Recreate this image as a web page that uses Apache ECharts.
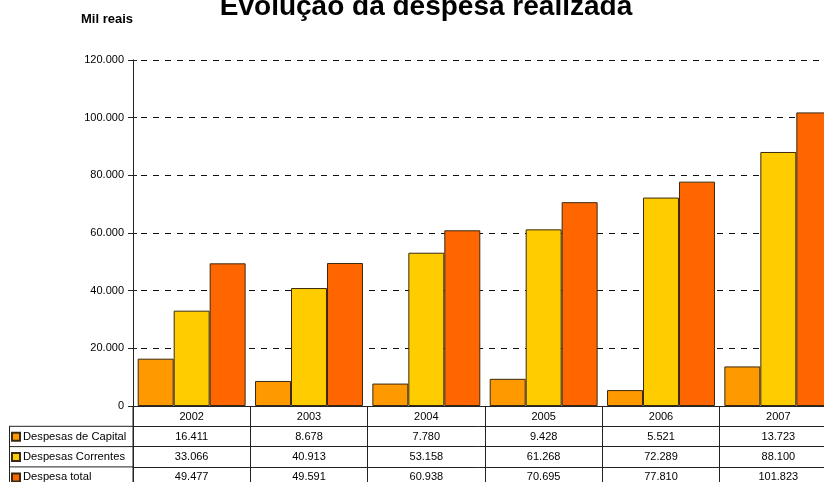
<!DOCTYPE html>
<html>
<head>
<meta charset="utf-8">
<script src="https://cdn.jsdelivr.net/npm/echarts@6/dist/echarts.min.js"></script>
<style>
  html, body { margin: 0; padding: 0; background: #fff; }
  #chart { width: 824px; height: 482px; }
</style>
</head>
<body>
<div id="chart"></div>
<script>
// Years and values (thousand reais)
const years = ['2002', '2003', '2004', '2005', '2006', '2007'];
const capital = [16411, 8678, 7780, 9428, 5521, 13723];
const correntes = [33066, 40913, 53158, 61268, 72289, 88100];
const total = [49477, 49591, 60938, 70695, 77810, 101823];
const seriesNames = ['Despesas de Capital', 'Despesas Correntes', 'Despesa total'];
const seriesColors = ['#FF9900', '#FFCC00', '#FF6600'];

const FONT = 'Liberation Sans, Arial, sans-serif';
const fmt = v => String(v).replace(/\B(?=(\d{3})+(?!\d))/g, '.');

const GRID_LEFT = 133, GRID_TOP = 60, GRID_H = 346, GRID_W = 704;
const ROW = 20.3;
const TABLE_TOP = GRID_TOP + GRID_H;
const lineColor = '#222';

function tableAxis(values, offset) {
  return {
    type: 'category', data: years, position: 'bottom', offset: offset,
    axisLine: { show: true, onZero: false, lineStyle: { color: lineColor, width: 1 } },
    axisTick: { show: true, length: ROW + 1, interval: 0, lineStyle: { color: lineColor } },
    axisLabel: {
      interval: 0, margin: 5, fontSize: 11, color: '#000', fontFamily: FONT,
      formatter: (v, i) => values[i]
    },
    splitLine: { show: false }
  };
}

// one legend per table row, so each sits in its own row of the data table
const legends = seriesNames.map((name, i) => ({
  orient: 'horizontal', left: 11, top: TABLE_TOP + ROW * (i + 1) + 5,
  padding: 0, itemWidth: 8, itemHeight: 8, itemGap: 0,
  icon: 'rect', data: [name], selectedMode: false,
  textStyle: { fontSize: 11.2, color: '#000', fontFamily: FONT, padding: [0, 0, 0, -2] }
}));

const yScale = { type: 'value', min: 0, max: 120000, interval: 20000 };

const chart = echarts.init(document.getElementById('chart'));
chart.setOption({
  animation: false,
  title: {
    text: 'Evolução da despesa realizada',
    left: 421, top: -12, textAlign: 'center',
    textStyle: { fontSize: 28, fontWeight: 'bold', color: '#000', fontFamily: FONT }
  },
  legend: legends,
  grid: { left: GRID_LEFT, top: GRID_TOP, width: GRID_W, height: GRID_H, outerBoundsMode: 'none', containLabel: false },
  xAxis: [
    tableAxis(years, 0),
    tableAxis(capital.map(fmt), ROW * 1),
    tableAxis(correntes.map(fmt), ROW * 2),
    tableAxis(total.map(fmt), ROW * 3)
  ],
  yAxis: [
    Object.assign({}, yScale, {
      name: 'Mil reais', nameLocation: 'end', nameGap: 34,
      nameTextStyle: { fontSize: 13, fontWeight: 'bold', color: '#000', fontFamily: FONT, align: 'right' },
      axisLine: { show: true, onZero: false, lineStyle: { color: lineColor } },
      axisTick: { show: true, length: 5, lineStyle: { color: lineColor } },
      axisLabel: { fontSize: 11, color: '#000', fontFamily: FONT, margin: 9, formatter: v => fmt(v) },
      splitLine: { show: true, lineStyle: { color: '#111', type: [6, 6], width: 1, dashOffset: -8 } }
    }),
    // inner half of the cross ticks on the value axis
    Object.assign({}, yScale, {
      position: 'left',
      axisLine: { show: false, onZero: false },
      axisTick: { show: true, inside: true, length: 4, lineStyle: { color: lineColor } },
      axisLabel: { show: false },
      splitLine: { show: false }
    })
  ],
  series: [capital, correntes, total].map((d, i) => ({
    name: seriesNames[i], type: 'bar', data: d,
    xAxisIndex: 0, yAxisIndex: 0,
    barGap: '0%', barCategoryGap: '8%',
    itemStyle: { color: seriesColors[i], borderColor: '#3a2a10', borderWidth: 1 }
  })),
  graphic: [
    // left column of the data table
    { type: 'line', shape: { x1: 9, y1: TABLE_TOP + ROW, x2: GRID_LEFT, y2: TABLE_TOP + ROW }, style: { stroke: lineColor, lineWidth: 1 } },
    { type: 'line', shape: { x1: 9, y1: TABLE_TOP + ROW * 2, x2: GRID_LEFT, y2: TABLE_TOP + ROW * 2 }, style: { stroke: lineColor, lineWidth: 1 } },
    { type: 'line', shape: { x1: 9, y1: TABLE_TOP + ROW * 3, x2: GRID_LEFT, y2: TABLE_TOP + ROW * 3 }, style: { stroke: lineColor, lineWidth: 1 } },
    { type: 'line', shape: { x1: 9.5, y1: TABLE_TOP + ROW, x2: 9.5, y2: 482 }, style: { stroke: lineColor, lineWidth: 1 } },
    { type: 'line', shape: { x1: GRID_LEFT, y1: TABLE_TOP, x2: GRID_LEFT, y2: 482 }, style: { stroke: lineColor, lineWidth: 1 } }
  ]
});
</script>
</body>
</html>
